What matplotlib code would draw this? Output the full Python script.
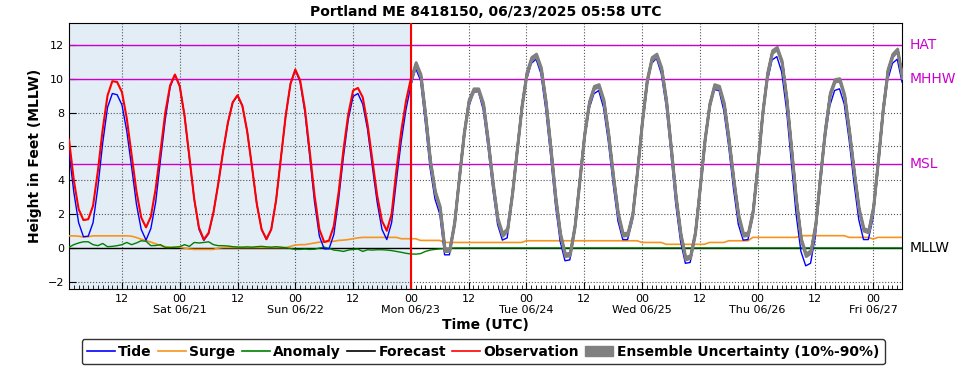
import numpy as np
import pandas as pd
import matplotlib
matplotlib.use("Agg")
import matplotlib.pyplot as plt
import matplotlib.dates as mdates
from matplotlib.lines import Line2D
from matplotlib.patches import Patch

# hourly series, 06/20 01:00 UTC -> 06/27 06:00 UTC
times = pd.date_range("2025-06-20 01:00", "2025-06-27 06:00", freq="h")
now = pd.Timestamp("2025-06-23 00:00")

tide = [5.7, 3.3, 1.5, 0.67, 0.7, 1.5, 3.6, 6.2, 8.3, 9.12,
        9.05, 8.45, 6.9, 4.8, 2.6, 1.1, 0.47, 1.15, 2.7, 5.2,
        7.6, 9.5, 10.24, 9.55, 7.8, 5.3, 2.9, 1.1, 0.45, 0.85,
        2.1, 3.8, 5.7, 7.4, 8.6, 9.0, 8.4, 6.9, 4.8, 2.6,
        1.1, 0.5, 1.1, 2.8, 5.3, 7.8, 9.7, 10.5, 9.8, 8.0,
        5.4, 2.7, 0.7, -0.05, -0.05, 0.8, 2.9, 5.4, 7.6, 8.95,
        9.12, 8.5, 7.0, 4.8, 2.7, 1.1, 0.5, 1.5, 4.0, 6.3,
        8.2, 9.6, 10.6, 9.9, 7.4, 4.7, 2.9, 2.0, -0.4, -0.4,
        1.1, 3.8, 6.4, 8.3, 9.2, 9.25, 8.2, 6.0, 3.5, 1.4,
        0.47, 0.6, 2.8, 5.4, 8.0, 9.9, 10.9, 11.15, 10.3, 8.2,
        5.5, 2.6, 0.4, -0.75, -0.7, 0.9, 3.6, 6.3, 8.2, 9.1,
        9.3, 8.3, 6.3, 3.8, 1.6, 0.5, 0.5, 1.6, 4.2, 7.1,
        9.6, 10.9, 11.2, 10.3, 8.4, 5.6, 2.6, 0.4, -0.9, -0.85,
        0.6, 3.3, 6.1, 8.2, 9.35, 9.3, 8.1, 6.0, 3.5, 1.4,
        0.47, 0.5, 1.8, 4.6, 7.5, 9.8, 11.1, 11.3, 10.4, 8.2,
        5.1, 2.0, -0.2, -1.05, -0.9, 0.7, 3.6, 6.4, 8.4, 9.3,
        9.4, 8.5, 6.4, 3.9, 1.7, 0.5, 0.5, 1.8, 4.6, 7.6,
        9.9, 10.9, 11.15, 9.8]

# observed water level up to "now"
obs = [6.4, 4.0, 2.3, 1.65, 1.7, 2.5, 4.55, 7.0, 9.0, 9.85,
       9.8, 9.2, 7.65, 5.5, 3.35, 1.8, 1.22, 1.85, 3.5, 5.7,
       8.0, 9.6, 10.24, 9.55, 7.8, 5.4, 2.9, 1.2, 0.5, 0.9,
       2.1, 3.8, 5.7, 7.4, 8.6, 9.02, 8.4, 6.9, 4.8, 2.6,
       1.1, 0.53, 1.1, 2.8, 5.3, 7.8, 9.7, 10.54, 9.9, 8.2,
       5.7, 3.1, 1.1, 0.35, 0.45, 1.3, 3.3, 5.8, 7.9, 9.3,
       9.45, 8.9, 7.3, 5.2, 3.1, 1.6, 1.02, 2.0, 4.6, 6.9,
       8.7, 10.0]

# forecast from "now" onward
forecast = [10.0, 10.9, 10.2, 7.8, 5.1, 3.3, 2.4, -0.1, -0.1, 1.5,
            4.2, 6.8, 8.7, 9.35, 9.35, 8.5, 6.3, 3.8, 1.7, 0.8,
            1.1, 3.2, 5.8, 8.4, 10.3, 11.2, 11.4, 10.6, 8.6, 5.9,
            3.0, 0.8, -0.4, -0.35, 1.3, 4.0, 6.7, 8.6, 9.5, 9.6,
            8.7, 6.7, 4.2, 2.0, 0.8, 0.85, 2.0, 4.6, 7.5, 9.9,
            11.2, 11.4, 10.6, 8.7, 5.9, 3.0, 0.8, -0.6, -0.5, 0.9,
            3.6, 6.4, 8.5, 9.6, 9.5, 8.5, 6.4, 4.0, 1.9, 0.8,
            0.85, 2.2, 5.0, 8.0, 10.3, 11.6, 11.8, 11.0, 8.8, 5.8,
            2.8, 0.5, -0.4, -0.2, 1.4, 4.3, 7.0, 9.1, 9.9, 9.95,
            9.0, 6.9, 4.5, 2.3, 1.1, 1.0, 2.4, 5.2, 8.2, 10.5,
            11.4, 11.7, 10.1]
ens_halfwidth = 0.08

surge = [0.72, 0.72, 0.7, 0.65, 0.67, 0.72, 0.72, 0.72, 0.72, 0.72,
         0.72, 0.72, 0.72, 0.7, 0.62, 0.52, 0.45, 0.35, 0.25, 0.15,
         0.08, 0.05, 0.05, 0.05, 0.0, -0.06, -0.08, -0.08, -0.08, -0.08,
         -0.08, 0.0, 0.03, 0.03, 0.03, 0.03, 0.03, 0.03, 0.03, 0.03,
         0.03, 0.03, 0.03, 0.03, 0.03, 0.03, 0.1, 0.18, 0.2, 0.2,
         0.25, 0.3, 0.35, 0.37, 0.38, 0.4, 0.45, 0.47, 0.5, 0.55,
         0.6, 0.63, 0.63, 0.63, 0.63, 0.63, 0.63, 0.63, 0.63, 0.55,
         0.55, 0.55, 0.55, 0.45, 0.45, 0.45, 0.45, 0.45, 0.33, 0.33,
         0.33, 0.33, 0.33, 0.33, 0.33, 0.33, 0.33, 0.33, 0.33, 0.33,
         0.33, 0.33, 0.33, 0.33, 0.33, 0.43, 0.43, 0.43, 0.43, 0.43,
         0.43, 0.43, 0.43, 0.43, 0.43, 0.43, 0.43, 0.43, 0.43, 0.43,
         0.43, 0.43, 0.43, 0.43, 0.43, 0.43, 0.43, 0.43, 0.43, 0.33,
         0.33, 0.33, 0.33, 0.33, 0.22, 0.22, 0.22, 0.22, 0.22, 0.22,
         0.22, 0.22, 0.22, 0.33, 0.33, 0.33, 0.33, 0.43, 0.43, 0.43,
         0.43, 0.43, 0.63, 0.63, 0.63, 0.63, 0.63, 0.63, 0.63, 0.63,
         0.63, 0.63, 0.73, 0.73, 0.73, 0.73, 0.73, 0.73, 0.73, 0.73,
         0.73, 0.73, 0.63, 0.63, 0.63, 0.63, 0.63, 0.53, 0.63, 0.63,
         0.63, 0.63, 0.63, 0.63]

anomaly = [0.05, 0.2, 0.3, 0.37, 0.37, 0.2, 0.14, 0.27, 0.08, 0.1,
           0.14, 0.2, 0.33, 0.2, 0.3, 0.43, 0.4, 0.14, 0.15, 0.2,
           0.03, 0.03, 0.05, 0.08, 0.2, 0.1, 0.33, 0.3, 0.33, 0.37,
           0.2, 0.14, 0.14, 0.12, 0.08, 0.06, 0.05, 0.07, 0.05, 0.08,
           0.1, 0.07, 0.05, 0.08, 0.05, 0.02, -0.03, -0.08, -0.08, -0.06,
           -0.08, -0.07, 0.0, 0.05, -0.02, -0.12, -0.15, -0.2, -0.12, -0.08,
           -0.06, -0.2, -0.1, -0.12, -0.1, -0.1, -0.12, -0.15, -0.2, -0.25,
           -0.31, -0.35, -0.36, -0.33, -0.2, -0.12, -0.08, -0.05, -0.03, -0.02,
           0.01, 0.01, 0.01, 0.01, 0.01, 0.01, 0.01, 0.01, 0.01, 0.01,
           0.01, 0.01, 0.01, 0.01, 0.01, 0.01, 0.01, 0.01, 0.01, 0.01,
           0.01, 0.01, 0.01, 0.01, 0.01, 0.01, 0.01, 0.01, 0.01, 0.01,
           0.01, 0.01, 0.01, 0.01, 0.01, 0.01, 0.01, 0.01, 0.01, 0.01,
           0.01, 0.01, 0.01, 0.01, 0.01, 0.01, 0.01, 0.01, 0.01, 0.01,
           0.01, 0.01, 0.01, 0.01, 0.01, 0.01, 0.01, 0.01, 0.01, 0.01,
           0.01, 0.01, 0.01, 0.01, 0.01, 0.01, 0.01, 0.01, 0.01, 0.01,
           0.01, 0.01, 0.01, 0.01, 0.01, 0.01, 0.01, 0.01, 0.01, 0.01,
           0.01, 0.01, 0.01, 0.01, 0.01, 0.01, 0.01, 0.01, 0.01, 0.01,
           0.01, 0.01, 0.01, 0.01]

# datums (ft above MLLW)
datum_names = ["HAT", "MHHW", "MSL", "MLLW"]
datum_values = [12.0, 9.95, 4.94, 0.0]
datum_colors = ["#cc00cc", "#cc00cc", "#cc00cc", "black"]

obs_times = times[:len(obs)]
fc_times = times[len(obs) - 1:]
fc = np.array(forecast)

fig = plt.figure(figsize=(9.69, 3.70), dpi=100)
ax = fig.add_axes([0.0712, 0.2197, 0.8597, 0.7189])

# observed period shading
ax.axvspan(times[0], now, color="#e3edf5", zorder=0)

for name, val, col in zip(datum_names, datum_values, datum_colors):
    ax.axhline(val, color=col, lw=1.0, zorder=2)
    ax.annotate(name, xy=(1.0096, val), xycoords=("axes fraction", "data"),
                va="center", ha="left", color=col, fontsize=10,
                annotation_clip=False)

ax.plot(times, surge, color="#f7941d", lw=1.2, zorder=3)
ax.plot(times, anomaly, color="#008000", lw=1.0, zorder=3)
ax.plot(times, tide, color="#0000ff", lw=1.0, zorder=4)
ax.plot(fc_times, fc, color="black", lw=1.0, zorder=5)
ax.fill_between(fc_times, fc - ens_halfwidth, fc + ens_halfwidth,
                facecolor="#808080", edgecolor="#808080", lw=2.0, zorder=6)
ax.plot(obs_times, obs, color="#ff0000", lw=1.5, zorder=7)
ax.axvline(now, color="#ff0000", lw=1.5, zorder=8)

ax.set_xlim(times[0], times[-1])
ax.set_ylim(-2.4, 13.3)
ax.set_yticks([-2, 0, 2, 4, 6, 8, 10, 12])


def fmt_time(x, pos=None):
    d = mdates.num2date(x)
    if d.hour == 0:
        return "00\n" + d.strftime("%a %m/%d")
    return d.strftime("%H")


ax.xaxis.set_major_locator(mdates.HourLocator(byhour=[0, 12]))
ax.xaxis.set_major_formatter(plt.FuncFormatter(fmt_time))
ax.xaxis.set_minor_locator(mdates.HourLocator())
ax.tick_params(axis="both", which="major", direction="in", length=5, labelsize=8)
ax.tick_params(axis="x", which="minor", direction="in", length=3)
ax.grid(which="major", linestyle=":", color="#555555", lw=0.8, zorder=1)
ax.set_axisbelow(True)

ax.set_title("Portland ME 8418150, 06/23/2025 05:58 UTC", fontsize=10,
             fontweight="bold", pad=5)
ax.set_ylabel("Height in Feet (MLLW)", fontsize=10, fontweight="bold")
ax.set_xlabel("Time (UTC)", fontsize=10, fontweight="bold", labelpad=2)

handles = [Line2D([], [], color="#0000ff", lw=1.2),
           Line2D([], [], color="#f7941d", lw=1.2),
           Line2D([], [], color="#008000", lw=1.2),
           Line2D([], [], color="black", lw=1.2),
           Line2D([], [], color="#ff0000", lw=1.2),
           Patch(facecolor="#808080", edgecolor="#808080")]
labels = ["Tide", "Surge", "Anomaly", "Forecast", "Observation",
          "Ensemble Uncertainty (10%-90%)"]
fig.legend(handles, labels, loc="center", bbox_to_anchor=(0.4985, 0.049),
           ncol=6, prop={"weight": "bold", "size": 10}, handlelength=2.0,
           handletextpad=0.25, columnspacing=0.45, fancybox=True,
           edgecolor="#333333", framealpha=1)

fig.savefig("out.png", dpi=100)
